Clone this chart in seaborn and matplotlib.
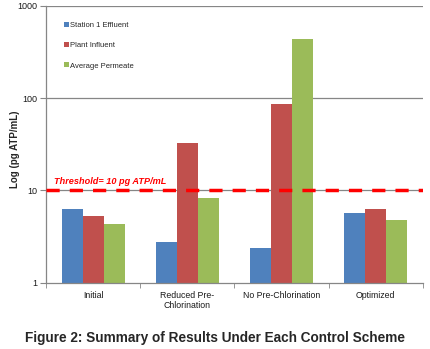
import matplotlib
matplotlib.use("Agg")
import matplotlib.pyplot as plt
import seaborn as sns
import pandas as pd
from matplotlib.ticker import FixedLocator, NullLocator, FixedFormatter

categories = ["Initial", "Reduced Pre-\nChlorination", "No Pre-Chlorination", "Optimized"]
series = ["Station 1 Effluent", "Plant Influent", "Average Permeate"]
station1 = [6.3, 2.75, 2.38, 5.7]
plant = [5.3, 33.0, 87.0, 6.3]
permeate = [4.3, 8.3, 435.0, 4.8]
threshold = 10
colors = ["#4F81BD", "#C0504D", "#9BBB59"]

rows = []
for s, vals in zip(series, [station1, plant, permeate]):
    for c, v in zip(categories, vals):
        rows.append({"cat": c, "series": s, "value": v})
df = pd.DataFrame(rows)

sns.set_style("white")
plt.rcParams['font.family'] = ['Liberation Sans', 'DejaVu Sans']

fig = plt.figure(figsize=(4.31, 3.49), dpi=100)
ax = fig.add_axes([0.107, 0.19, 0.874, 0.793])

sns.barplot(data=df, x="cat", y="value", hue="series", order=categories,
            hue_order=series, palette=colors, width=0.67, ax=ax,
            saturation=1, edgecolor="none", log_scale=(False, True))

ax.set_yscale("log")
ax.set_ylim(1, 1000)
ax.set_xlim(-0.5, 3.5)
ax.yaxis.set_major_locator(FixedLocator([1, 10, 100, 1000]))
ax.yaxis.set_major_formatter(FixedFormatter(["1", "10", "100", "1000"]))
ax.yaxis.set_minor_locator(NullLocator())
for y in [10, 100, 1000]:
    ax.axhline(y, color="#868686", lw=0.9, zorder=0)
ax.set_axisbelow(True)

ax.axhline(threshold, color="#FF0000", lw=2.5, ls=(0, (3.8, 2.9)), zorder=5)
ax.text(-0.42, 11.3, "Threshold= 10 pg ATP/mL", color="#FF0000", fontsize=6.6,
        fontweight="bold", fontstyle="italic", va="bottom", ha="left")

for s in ["top", "right"]:
    ax.spines[s].set_visible(False)
ax.spines["left"].set_color("#868686")
ax.spines["bottom"].set_color("#868686")
ax.spines["left"].set_linewidth(0.9)
ax.spines["bottom"].set_linewidth(0.9)

ax.set_xticks(range(4))
ax.set_xticklabels(categories, fontsize=6.3, linespacing=1.15, color="#1a1a1a")
ax.tick_params(axis="x", length=0, pad=6)
ax.set_xticks([-0.5, 0.5, 1.5, 2.5, 3.5], minor=True)
ax.tick_params(axis="x", which="minor", length=3.5, direction="out", color="#868686", bottom=True)
ax.tick_params(axis="y", labelsize=6.5, length=4, direction="out", color="#868686", left=True, pad=2,
               labelcolor="#1a1a1a")

ax.set_xlabel("")
ax.set_ylabel("Log (pg ATP/mL)", fontsize=7, fontweight="bold")
ax.yaxis.set_label_coords(-0.069, 0.483)

leg = ax.legend(loc="upper left", bbox_to_anchor=(0.03, 0.966), frameon=False,
                fontsize=5.5, handlelength=0.6, handleheight=0.6, labelspacing=1.7,
                handletextpad=0.2)

fig.text(0.5, 0.032, "Figure 2: Summary of Results Under Each Control Scheme",
         ha="center", va="center", fontsize=9.8, fontweight="bold")

fig.savefig("out.png", dpi=100)
